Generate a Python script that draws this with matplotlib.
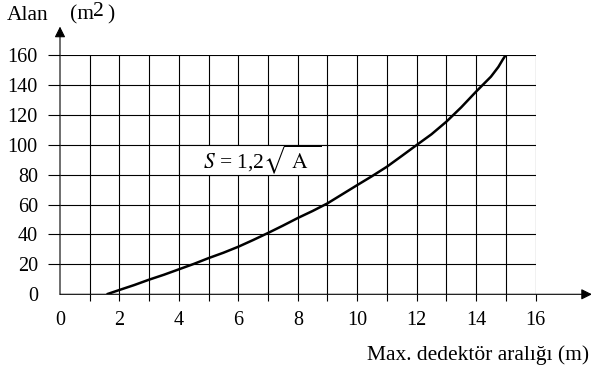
import numpy as np
import matplotlib.pyplot as plt
from matplotlib.patches import Rectangle

plt.rcParams['font.family'] = ['Liberation Serif', 'DejaVu Serif']
plt.rcParams['mathtext.fontset'] = 'stix'

# curve
dist = [1.57, 2, 2.5, 3, 3.5, 4, 4.5, 5, 5.5, 6, 6.5, 7, 7.5, 8, 8.5, 9, 9.5,
        10, 10.5, 11, 11.5, 12, 12.5, 13, 13.5, 14, 14.5, 14.75, 14.9, 15]
area = [0, 2.9, 6.2, 9.8, 13.1, 16.7, 20.3, 24.2, 27.8, 31.8, 36.3, 41.0, 45.9,
        51.0, 55.7, 60.8, 66.9, 73, 79, 85.3, 92.5, 99.8, 107, 115.4, 125,
        135.5, 145.5, 152, 157, 160]
xticks = [0, 2, 4, 6, 8, 10, 12, 14, 16]
yticks = [0, 20, 40, 60, 80, 100, 120, 140, 160]

W, H = 591, 367
fig = plt.figure(figsize=(W / 100, H / 100), dpi=100)
x0, x16 = 60, 535.5
y0, y160 = 294.3, 55
ax = fig.add_axes([x0 / W, (H - y0) / H, (x16 - x0) / W, (y0 - y160) / H])
ax.set_xlim(0, 16)
ax.set_ylim(0, 160)
for s in ax.spines.values():
    s.set_visible(False)

lw = 0.8
# grid
ax.vlines(range(1, 17), 0, 160, color='black', lw=lw)
ax.hlines(yticks[1:], 0, 16, color='black', lw=lw)
# tick stubs outside the plot
ax.vlines(range(1, 17), -4.5, 0, color='black', lw=lw, clip_on=False)
ax.hlines(yticks[1:], -0.4, 0, color='black', lw=lw, clip_on=False)

# axes with arrows
ax.annotate('', xy=(0, 179), xytext=(0, 0), annotation_clip=False,
            arrowprops=dict(arrowstyle='-|>', color='black', lw=lw,
                            mutation_scale=16, shrinkA=0, shrinkB=0))
ax.annotate('', xy=(17.9, 0), xytext=(0, 0), annotation_clip=False,
            arrowprops=dict(arrowstyle='-|>', color='black', lw=lw,
                            mutation_scale=16, shrinkA=0, shrinkB=0))

ax.plot(dist, area, color='black', lw=1.8, solid_capstyle='butt',
        solid_joinstyle='round', zorder=4)

# formula box
ax.add_patch(Rectangle((4, 80), 5, 20, facecolor='white', edgecolor='black',
                       lw=lw, zorder=3))
ax.text(4.82, 90, r'$S$ = 1,2$\sqrt{\ \mathrm{A}\ \ }$', fontsize=15.5,
        va='center', ha='left', zorder=5)

ax.set_xticks(xticks)
ax.set_yticks(yticks)
ax.tick_params(length=0, labelsize=14.5)
ax.tick_params(axis='x', pad=12)
ax.tick_params(axis='y', pad=16)

fs = 15.5
fig.text(7 / W, 1 - 15 / H, 'Alan', fontsize=fs, va='center', ha='left')
fig.text(70 / W, 1 - 15 / H, '(m', fontsize=fs, va='center', ha='left')
fig.text(93 / W, 1 - 12 / H, '2', fontsize=fs, va='center', ha='left')
fig.text(107 / W, 1 - 15 / H, ')', fontsize=fs, va='center', ha='left')
fig.text(589 / W, 1 - 355 / H, 'Max. dedektör aralığı (m)', fontsize=fs,
         va='center', ha='right')

fig.savefig('out.png', dpi=100)
